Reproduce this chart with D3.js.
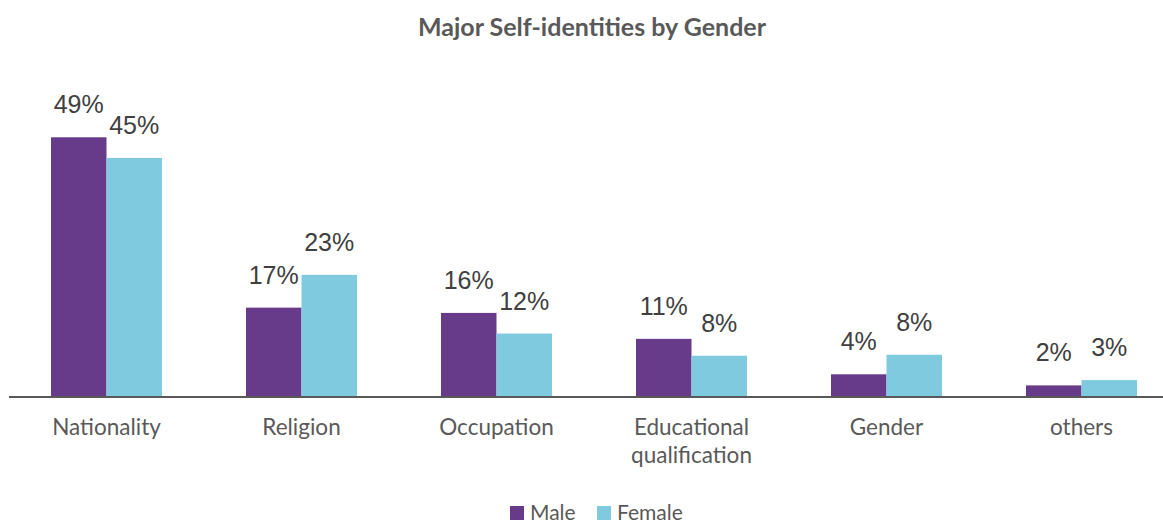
<!DOCTYPE html>
<html>
<head>
<meta charset="utf-8">
<script src="https://cdn.jsdelivr.net/npm/d3@7"></script>
<style>
  body { margin: 0; background: #fff; }
  svg { display: block; }
</style>
</head>
<body>
<div id="chart"></div>
<script>
const W = 1163, H = 524;

const categories = [["Nationality"], ["Religion"], ["Occupation"], ["Educational", "qualification"], ["Gender"], ["others"]];
const series = ["Male", "Female"];
const maleValues = [49.0, 16.8, 15.8, 10.9, 4.2, 2.1];
const femaleValues = [45.1, 23.0, 11.9, 7.7, 7.9, 3.1];
const colors = ["#673b8a", "#80cadf"];

const TXT = "#595959";
const catFont = "Lato, 'Open Sans', sans-serif";

const svg = d3.select("#chart").append("svg")
    .attr("width", W)
    .attr("height", H);

// title
svg.append("text")
    .attr("x", 592)
    .attr("y", 36)
    .attr("text-anchor", "middle")
    .style("font-family", catFont)
    .style("font-weight", "bold")
    .style("font-size", "25px")
    .style("fill", TXT)
    .text("Major Self-identities by Gender");

const x0 = d3.scaleBand()
    .domain(d3.range(categories.length))
    .range([9, 9 + 195 * categories.length]);

const x1 = d3.scaleBand()
    .domain(series)
    .range([0, x0.bandwidth()])
    .paddingInner(0)
    .paddingOuter(0.757);

const y = d3.scaleLinear()
    .domain([0, 50])
    .range([396.5, 132]);

const rows = categories.map((c, i) => ({ i: i, vals: [maleValues[i], femaleValues[i]] }));

const groups = svg.selectAll("g.grp")
    .data(rows)
    .enter()
    .append("g")
    .attr("class", "grp")
    .attr("transform", d => `translate(${x0(d.i)},0)`);

groups.selectAll("rect")
    .data(d => d.vals.map((v, k) => ({ s: series[k], v: v, k: k })))
    .enter()
    .append("rect")
    .attr("x", d => x1(d.s))
    .attr("width", x1.bandwidth())
    .attr("y", d => y(d.v))
    .attr("height", d => y(0) - y(d.v))
    .style("fill", d => colors[d.k]);

groups.selectAll("text.val")
    .data(d => d.vals.map((v, k) => ({ s: series[k], v: v })))
    .enter()
    .append("text")
    .attr("class", "val")
    .attr("x", d => x1(d.s) + x1.bandwidth() / 2)
    .attr("y", d => y(d.v) - 24)
    .attr("text-anchor", "middle")
    .style("font-family", "'Liberation Sans', Arial, sans-serif")
    .style("font-size", "25px")
    .style("fill", "#404040")
    .text(d => Math.round(d.v) + "%");

// axis line
svg.append("line")
    .attr("x1", 9)
    .attr("x2", W)
    .attr("y1", y(0) + 0.5)
    .attr("y2", y(0) + 0.5)
    .style("stroke", "#595959")
    .style("stroke-width", 2);

// category labels
groups.each(function(d) {
    const t = d3.select(this).append("text")
        .attr("text-anchor", "middle")
        .style("font-family", catFont)
        .style("font-size", "22.5px")
        .style("fill", TXT);
    categories[d.i].forEach((line, j) => {
        t.append("tspan")
            .attr("x", x0.bandwidth() / 2)
            .attr("y", 435 + j * 28)
            .text(line);
    });
});

// legend
const legend = svg.append("g").attr("transform", "translate(510,506)");
const legX = [0, 87];
series.forEach((s, k) => {
    const g = legend.append("g").attr("transform", `translate(${legX[k]},0)`);
    g.append("rect")
        .attr("width", 14)
        .attr("height", 14)
        .style("fill", colors[k]);
    g.append("text")
        .attr("x", 20)
        .attr("y", 14)
        .style("font-family", catFont)
        .style("font-size", "21px")
        .style("fill", TXT)
        .text(s);
});
</script>
</body>
</html>
